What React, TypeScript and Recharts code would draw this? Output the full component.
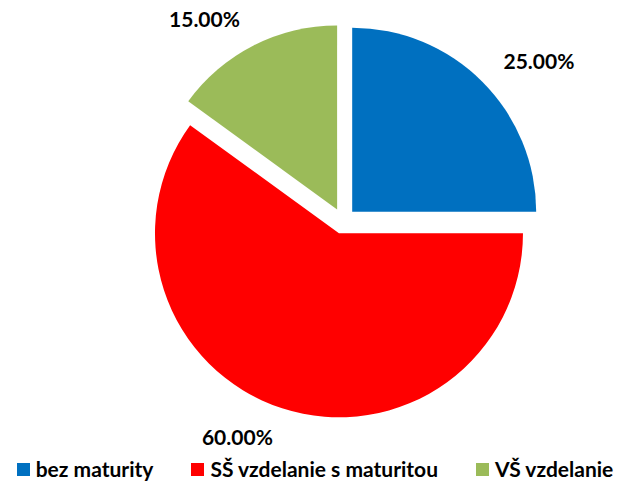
import { PieChart, Pie, Cell } from 'recharts';

const categories = ['bez maturity', 'SŠ vzdelanie s maturitou', 'VŠ vzdelanie'];
const shares = [25, 60, 15];
const colors = ['#0070C0', '#FF0000', '#9BBB59'];

const data = categories.map((name, i) => ({ name, value: shares[i] }));

const CX = 343;
const CY = 221;
const RADIUS = 184;
const EXPLODE = 13;
const RADIAN = Math.PI / 180;
const FONT = 'Lato, "Open Sans", sans-serif';

const total = shares.reduce((a, b) => a + b, 0);

// middle of each slice in recharts degrees (counter-clockwise from 3 o'clock), first slice starts at 12
const midAngles = shares.map((v, i) => {
  const before = shares.slice(0, i).reduce((a, b) => a + b, 0);
  return 90 - ((before + v / 2) / total) * 360;
});

const renderLabel = (props: any, slice: number) => {
  const { cx, cy, midAngle, outerRadius, percent, index } = props;
  if (index !== slice) return <g />;
  const r = outerRadius + 30;
  const cos = Math.cos(-midAngle * RADIAN);
  const sin = Math.sin(-midAngle * RADIAN);
  const x = cx + r * cos;
  const y = cy + r * sin;
  return (
    <text
      x={x}
      y={y}
      textAnchor={cos >= 0 ? 'start' : 'end'}
      dominantBaseline="central"
      fill="#000"
      fontFamily={FONT}
      fontWeight="bold"
      fontSize={21}
    >
      {(percent * 100).toFixed(2) + '%'}
    </text>
  );
};

export default function App() {
  return (
    <div style={{ position: 'absolute', left: 0, top: 0, width: 630, height: 483, background: '#fff' }}>
      <PieChart width={630} height={483} margin={{ top: 0, right: 0, bottom: 0, left: 0 }}>
        {data.map((d, i) => {
          const rad = midAngles[i] * RADIAN;
          return (
            <Pie
              key={d.name}
              data={data}
              dataKey="value"
              nameKey="name"
              cx={CX + EXPLODE * Math.cos(rad)}
              cy={CY - EXPLODE * Math.sin(rad)}
              outerRadius={RADIUS}
              startAngle={90}
              endAngle={-270}
              stroke="none"
              legendType="none"
              labelLine={false}
              label={(p: any) => renderLabel(p, i)}
              isAnimationActive={false}
            >
              {data.map((_, j) => (
                <Cell key={j} fill={j === i ? colors[j] : 'transparent'} />
              ))}
            </Pie>
          );
        })}
      </PieChart>
      <div
        style={{
          position: 'absolute',
          left: 0,
          top: 458,
          width: 630,
          display: 'flex',
          justifyContent: 'center',
          gap: 38,
          fontFamily: FONT,
          fontWeight: 'bold',
          fontSize: 21,
          lineHeight: '22px',
          color: '#000',
        }}
      >
        {categories.map((name, i) => (
          <div key={name} style={{ display: 'flex', alignItems: 'center', whiteSpace: 'nowrap' }}>
            <span style={{ display: 'inline-block', width: 13, height: 13, background: colors[i], marginRight: 6 }} />
            <span>{name}</span>
          </div>
        ))}
      </div>
    </div>
  );
}
